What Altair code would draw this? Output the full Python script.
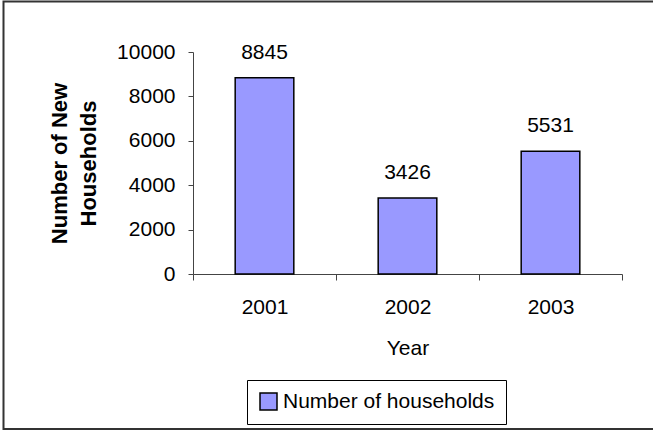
import altair as alt
import pandas as pd

years = ["2001", "2002", "2003"]
households = [8845, 3426, 5531]
series = ["Number of households"] * 3
y_ticks = [0, 2000, 4000, 6000, 8000, 10000]

df = pd.DataFrame({"Year": years, "Households": households, "Series": series})

FONT = "Liberation Sans"
AXIS_COLOR = "#444444"
FS = 21

base = alt.Chart(df).encode(
    x=alt.X(
        "Year:N",
        sort=years,
        scale=alt.Scale(paddingInner=0, paddingOuter=0),
        axis=alt.Axis(
            title="Year",
            labelAngle=0,
            tickBand="extent",
            tickSize=6,
            labelPadding=16,
            titlePadding=20,
            labelFont=FONT,
            labelFontSize=FS,
            labelColor="black",
            titleFont=FONT,
            titleFontSize=FS,
            titleFontWeight="normal",
            titleColor="black",
            domainColor=AXIS_COLOR,
            tickColor=AXIS_COLOR,
            domainWidth=1,
            tickWidth=1,
        ),
    ),
)

bars = base.mark_bar(
    width=alt.RelativeBandSize(0.41), stroke="black", strokeWidth=1.5
).encode(
    y=alt.Y(
        "Households:Q",
        scale=alt.Scale(domain=[0, 10000]),
        axis=alt.Axis(
            values=y_ticks,
            format="d",
            grid=False,
            title=["Number of New", "Households"],
            tickSize=5,
            labelPadding=13,
            titlePadding=16,
            labelFont=FONT,
            labelFontSize=FS,
            labelColor="black",
            titleFont=FONT,
            titleFontSize=22,
            titleFontWeight="bold",
            titleColor="black",
            titleLineHeight=29,
            domainColor=AXIS_COLOR,
            tickColor=AXIS_COLOR,
            domainWidth=1,
            tickWidth=1,
        ),
    ),
    color=alt.Color(
        "Series:N",
        scale=alt.Scale(range=["#9999FF"]),
        legend=alt.Legend(
            title=None,
            orient="none",
            legendX=54,
            legendY=328,
            symbolType="square",
            symbolSize=289,
            symbolStrokeColor="black",
            symbolStrokeWidth=1.5,
            labelFont=FONT,
            labelFontSize=FS,
            labelColor="black",
            labelOffset=4,
            labelLimit=400,
            strokeColor="black",
            fillColor="white",
            padding=11,
        ),
    ),
)

labels = base.mark_text(
    baseline="alphabetic", dy=-19, fontSize=FS, font=FONT, color="black"
).encode(
    y=alt.Y("Households:Q"),
    text=alt.Text("Households:Q", format="d"),
)

border = alt.Chart(alt.Data(values=[{}])).mark_rect(
    filled=False, stroke="#333333", strokeWidth=2
).encode(
    x=alt.value(-189.5),
    x2=alt.value(480),
    y=alt.value(-50.5),
    y2=alt.value(377),
)

chart = alt.layer(border, bars, labels).properties(
    width=429,
    height=222,
    padding={"left": 193, "top": 52, "right": 31, "bottom": 157},
    autosize="none",
).configure_view(stroke=None)

chart.save("out.html", embed_options={"renderer": "svg", "actions": False})
